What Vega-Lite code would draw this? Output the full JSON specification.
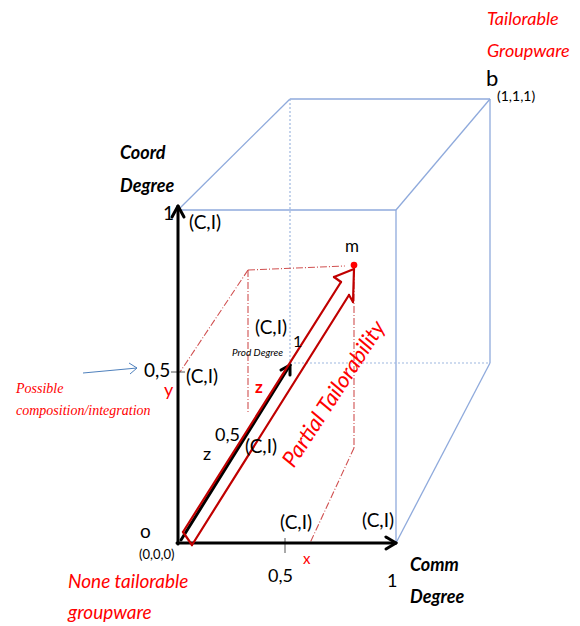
{
  "$schema": "https://vega.github.io/schema/vega-lite/v6.json",
  "width": 580,
  "height": 626,
  "padding": 0,
  "autosize": {"type": "none"},
  "background": "white",
  "config": {"view": {"stroke": null}},
  "datasets": {
    "segs": [
      {"kind": "cube", "x1": 178, "y1": 210, "x2": 396, "y2": 210},
      {"kind": "cube", "x1": 396, "y1": 210, "x2": 396, "y2": 543},
      {"kind": "cube", "x1": 178, "y1": 210, "x2": 290, "y2": 99},
      {"kind": "cube", "x1": 290, "y1": 99, "x2": 490, "y2": 99},
      {"kind": "cube", "x1": 490, "y1": 99, "x2": 490, "y2": 363},
      {"kind": "cube", "x1": 396, "y1": 210, "x2": 490, "y2": 99},
      {"kind": "cube", "x1": 396, "y1": 543, "x2": 490, "y2": 363},
      {"kind": "cubeDash", "x1": 290, "y1": 99, "x2": 290, "y2": 363},
      {"kind": "cubeDash", "x1": 290, "y1": 363, "x2": 490, "y2": 363},
      {"kind": "proj", "x1": 248, "y1": 270, "x2": 345, "y2": 266},
      {"kind": "proj", "x1": 248, "y1": 270, "x2": 180, "y2": 372},
      {"kind": "proj", "x1": 248, "y1": 270, "x2": 248, "y2": 412},
      {"kind": "proj", "x1": 354, "y1": 270, "x2": 354, "y2": 448},
      {"kind": "proj", "x1": 354, "y1": 448, "x2": 310, "y2": 543},
      {"kind": "tick", "x1": 171, "y1": 372, "x2": 185, "y2": 372},
      {"kind": "tick", "x1": 285, "y1": 538, "x2": 285, "y2": 553},
      {"kind": "axis", "x1": 178, "y1": 544, "x2": 178, "y2": 207},
      {"kind": "axis", "x1": 177, "y1": 543, "x2": 394, "y2": 543},
      {"kind": "axis", "x1": 181, "y1": 540, "x2": 290, "y2": 365},
      {"kind": "head", "x1": 172, "y1": 217, "x2": 178, "y2": 206},
      {"kind": "head", "x1": 184, "y1": 217, "x2": 178, "y2": 206},
      {"kind": "head", "x1": 386, "y1": 537, "x2": 396, "y2": 543},
      {"kind": "head", "x1": 386, "y1": 549, "x2": 396, "y2": 543},
      {"kind": "head", "x1": 281, "y1": 370, "x2": 290, "y2": 365},
      {"kind": "head", "x1": 290, "y1": 375, "x2": 290, "y2": 365},
      {"kind": "big", "x1": 183, "y1": 532, "x2": 341, "y2": 282},
      {"kind": "big", "x1": 341, "y1": 282, "x2": 334, "y2": 277},
      {"kind": "big", "x1": 334, "y1": 277, "x2": 354, "y2": 269},
      {"kind": "big", "x1": 354, "y1": 269, "x2": 353, "y2": 302},
      {"kind": "big", "x1": 353, "y1": 302, "x2": 349, "y2": 295},
      {"kind": "big", "x1": 349, "y1": 295, "x2": 192, "y2": 545},
      {"kind": "big", "x1": 192, "y1": 545, "x2": 183, "y2": 532},
      {"kind": "blue", "x1": 83, "y1": 373, "x2": 137, "y2": 368},
      {"kind": "blue", "x1": 129, "y1": 363, "x2": 137, "y2": 368},
      {"kind": "blue", "x1": 130, "y1": 374, "x2": 137, "y2": 368}
    ],
    "pts": [{"name": "m", "x": 354, "y": 265}],
    "labels": [
      {"style": "black", "text": "b", "x": 486, "y": 79, "size": 22},
      {"style": "black", "text": "(1,1,1)", "x": 497, "y": 97, "size": 14},
      {"style": "black", "text": "1", "x": 163, "y": 214, "size": 19},
      {"style": "black", "text": "(C,I)", "x": 189, "y": 223, "size": 19},
      {"style": "black", "text": "m", "x": 345, "y": 247, "size": 17},
      {"style": "black", "text": "(C,I)", "x": 255, "y": 328, "size": 19},
      {"style": "black", "text": "1", "x": 293, "y": 342, "size": 16},
      {"style": "black", "text": "0,5", "x": 144, "y": 371, "size": 19},
      {"style": "black", "text": "(C,I)", "x": 186, "y": 377, "size": 19},
      {"style": "black", "text": "0,5", "x": 215, "y": 436, "size": 18},
      {"style": "black", "text": "z", "x": 203, "y": 455, "size": 18},
      {"style": "black", "text": "(C,I)", "x": 245, "y": 447, "size": 19},
      {"style": "black", "text": "o", "x": 140, "y": 532, "size": 19},
      {"style": "black", "text": "(0,0,0)", "x": 139, "y": 555, "size": 13},
      {"style": "black", "text": "(C,I)", "x": 280, "y": 523, "size": 19},
      {"style": "black", "text": "(C,I)", "x": 362, "y": 521, "size": 19},
      {"style": "black", "text": "0,5", "x": 268, "y": 577, "size": 18},
      {"style": "black", "text": "1", "x": 387, "y": 582, "size": 18},
      {"style": "redplain", "text": "y", "x": 164, "y": 391, "size": 18},
      {"style": "redplain", "text": "x", "x": 303, "y": 559, "size": 15},
      {"style": "redbold", "text": "z", "x": 255, "y": 388, "size": 17},
      {"style": "bolditalic", "text": "Coord", "x": 120, "y": 154, "size": 18},
      {"style": "bolditalic", "text": "Degree", "x": 120, "y": 187, "size": 18},
      {"style": "bolditalic", "text": "Comm", "x": 410, "y": 566, "size": 18},
      {"style": "bolditalic", "text": "Degree", "x": 410, "y": 598, "size": 18},
      {"style": "smallitalic", "text": "Prod Degree", "x": 232, "y": 353, "size": 10},
      {"style": "reditalic", "text": "Tailorable", "x": 487, "y": 20, "size": 18},
      {"style": "reditalic", "text": "Groupware", "x": 487, "y": 52, "size": 18},
      {"style": "reditalic", "text": "None tailorable", "x": 68, "y": 582, "size": 19},
      {"style": "reditalic", "text": "groupware", "x": 68, "y": 613, "size": 19},
      {"style": "serif", "text": "Possible", "x": 16, "y": 389, "size": 14},
      {"style": "serif", "text": "composition/integration", "x": 16, "y": 411, "size": 14},
      {"style": "rotated", "text": "Partial Tailorability", "x": 334, "y": 394, "size": 22}
    ]
  },
  "encoding": {
    "x": {"field": "x1", "type": "quantitative", "scale": {"domain": [0, 580], "nice": false, "zero": false}, "axis": null},
    "y": {"field": "y1", "type": "quantitative", "scale": {"domain": [626, 0], "nice": false, "zero": false}, "axis": null}
  },
  "layer": [
    {"data": {"name": "segs"}, "transform": [{"filter": "datum.kind == 'cube'"}],
     "mark": {"type": "rule", "stroke": "#8FAADC", "strokeWidth": 1.3},
     "encoding": {"x2": {"field": "x2"}, "y2": {"field": "y2"}}},
    {"data": {"name": "segs"}, "transform": [{"filter": "datum.kind == 'cubeDash'"}],
     "mark": {"type": "rule", "stroke": "#9DB7E0", "strokeWidth": 1.2, "strokeDash": [2, 2]},
     "encoding": {"x2": {"field": "x2"}, "y2": {"field": "y2"}}},
    {"data": {"name": "segs"}, "transform": [{"filter": "datum.kind == 'proj'"}],
     "mark": {"type": "rule", "stroke": "#D05050", "strokeWidth": 1.1, "strokeDash": [7, 2, 1, 2]},
     "encoding": {"x2": {"field": "x2"}, "y2": {"field": "y2"}}},
    {"data": {"name": "segs"}, "transform": [{"filter": "datum.kind == 'tick'"}],
     "mark": {"type": "rule", "stroke": "#555555", "strokeWidth": 1},
     "encoding": {"x2": {"field": "x2"}, "y2": {"field": "y2"}}},
    {"data": {"name": "segs"}, "transform": [{"filter": "datum.kind == 'axis' || datum.kind == 'head'"}],
     "mark": {"type": "rule", "stroke": "#000000", "strokeWidth": 3, "strokeCap": "round"},
     "encoding": {"x2": {"field": "x2"}, "y2": {"field": "y2"}}},
    {"data": {"name": "segs"}, "transform": [{"filter": "datum.kind == 'big'"}],
     "mark": {"type": "rule", "stroke": "#C00000", "strokeWidth": 2.2, "strokeCap": "round"},
     "encoding": {"x2": {"field": "x2"}, "y2": {"field": "y2"}}},
    {"data": {"name": "segs"}, "transform": [{"filter": "datum.kind == 'blue'"}],
     "mark": {"type": "rule", "stroke": "#4F81BD", "strokeWidth": 1},
     "encoding": {"x2": {"field": "x2"}, "y2": {"field": "y2"}}},
    {"data": {"name": "pts"},
     "mark": {"type": "point", "filled": true, "color": "#FF0000", "size": 45, "opacity": 1},
     "encoding": {"x": {"field": "x", "type": "quantitative"}, "y": {"field": "y", "type": "quantitative"}}},
    {"data": {"name": "labels"}, "transform": [{"filter": "datum.style == 'black'"}],
     "mark": {"type": "text", "align": "left", "baseline": "middle", "font": "Lato", "color": "#000000"},
     "encoding": {"x": {"field": "x", "type": "quantitative"}, "y": {"field": "y", "type": "quantitative"}, "text": {"field": "text"}, "size": {"field": "size", "type": "quantitative", "scale": null}}},
    {"data": {"name": "labels"}, "transform": [{"filter": "datum.style == 'redplain'"}],
     "mark": {"type": "text", "align": "left", "baseline": "middle", "font": "Lato", "color": "#FF0000"},
     "encoding": {"x": {"field": "x", "type": "quantitative"}, "y": {"field": "y", "type": "quantitative"}, "text": {"field": "text"}, "size": {"field": "size", "type": "quantitative", "scale": null}}},
    {"data": {"name": "labels"}, "transform": [{"filter": "datum.style == 'redbold'"}],
     "mark": {"type": "text", "align": "left", "baseline": "middle", "font": "Lato", "fontWeight": "bold", "color": "#FF0000"},
     "encoding": {"x": {"field": "x", "type": "quantitative"}, "y": {"field": "y", "type": "quantitative"}, "text": {"field": "text"}, "size": {"field": "size", "type": "quantitative", "scale": null}}},
    {"data": {"name": "labels"}, "transform": [{"filter": "datum.style == 'bolditalic'"}],
     "mark": {"type": "text", "align": "left", "baseline": "middle", "font": "Lato", "fontWeight": "bold", "fontStyle": "italic", "color": "#000000"},
     "encoding": {"x": {"field": "x", "type": "quantitative"}, "y": {"field": "y", "type": "quantitative"}, "text": {"field": "text"}, "size": {"field": "size", "type": "quantitative", "scale": null}}},
    {"data": {"name": "labels"}, "transform": [{"filter": "datum.style == 'smallitalic'"}],
     "mark": {"type": "text", "align": "left", "baseline": "middle", "font": "Lato", "fontStyle": "italic", "color": "#000000"},
     "encoding": {"x": {"field": "x", "type": "quantitative"}, "y": {"field": "y", "type": "quantitative"}, "text": {"field": "text"}, "size": {"field": "size", "type": "quantitative", "scale": null}}},
    {"data": {"name": "labels"}, "transform": [{"filter": "datum.style == 'reditalic'"}],
     "mark": {"type": "text", "align": "left", "baseline": "middle", "font": "Lato", "fontStyle": "italic", "color": "#FF0000"},
     "encoding": {"x": {"field": "x", "type": "quantitative"}, "y": {"field": "y", "type": "quantitative"}, "text": {"field": "text"}, "size": {"field": "size", "type": "quantitative", "scale": null}}},
    {"data": {"name": "labels"}, "transform": [{"filter": "datum.style == 'serif'"}],
     "mark": {"type": "text", "align": "left", "baseline": "middle", "font": "Liberation Serif", "fontStyle": "italic", "color": "#FF0000"},
     "encoding": {"x": {"field": "x", "type": "quantitative"}, "y": {"field": "y", "type": "quantitative"}, "text": {"field": "text"}, "size": {"field": "size", "type": "quantitative", "scale": null}}},
    {"data": {"name": "labels"}, "transform": [{"filter": "datum.style == 'rotated'"}],
     "mark": {"type": "text", "align": "center", "baseline": "middle", "font": "Lato", "fontStyle": "italic", "color": "#FF0000", "angle": 303},
     "encoding": {"x": {"field": "x", "type": "quantitative"}, "y": {"field": "y", "type": "quantitative"}, "text": {"field": "text"}, "size": {"field": "size", "type": "quantitative", "scale": null}}}
  ]
}
